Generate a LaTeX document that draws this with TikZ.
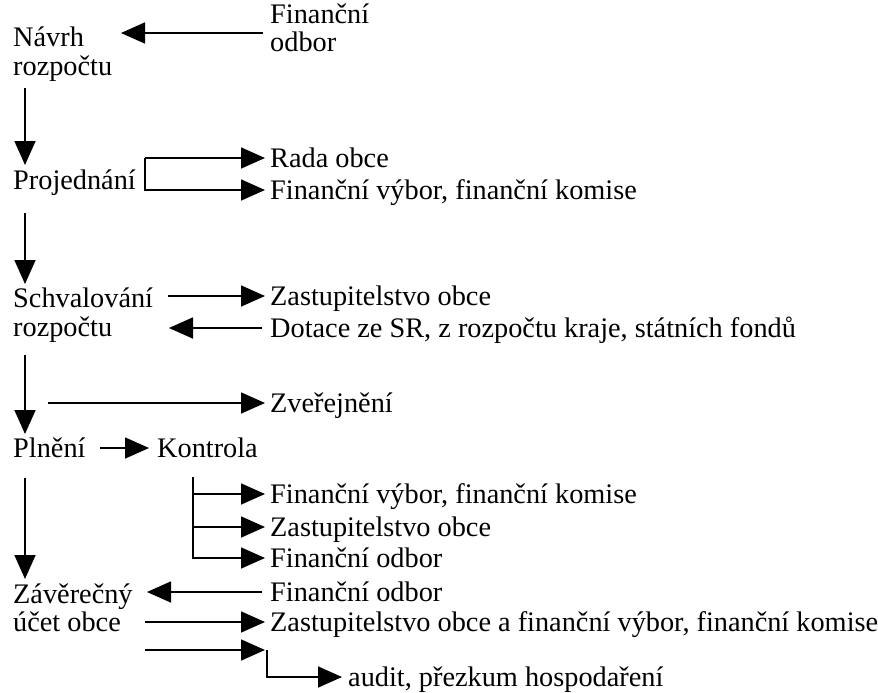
\documentclass[tikz,border=0pt]{standalone}
\usepackage{fontspec}
\setmainfont{Liberation Serif}
\usetikzlibrary{arrows.meta}
\begin{document}
\begin{tikzpicture}[x=1pt,y=-1pt,
  lbl/.style={inner sep=0pt,anchor=base west,font=\fontsize{28.3}{30}\selectfont},
  conn/.style={line width=1.7pt},
  arr/.style={conn,-{Triangle[length=24pt,width=21pt]}},
  varr/.style={conn,-{Triangle[length=24pt,width=21pt]}}]
\useasboundingbox (0,0) rectangle (878,693);
% left column
\node[lbl] (navrh) at (13,47) {Návrh};
\node[lbl] (navrh2) at (13,75) {rozpočtu};
\node[lbl] (proj) at (13,189) {Projednání};
\node[lbl] (schv) at (13,307) {Schvalování};
\node[lbl] (schv2) at (13,336) {rozpočtu};
\node[lbl] (plneni) at (13,457) {Plnění};
\node[lbl] (kontrola) at (157,457) {Kontrola};
\node[lbl] (zav) at (13,603) {Závěrečný};
\node[lbl] (zav2) at (13,631) {účet obce};
% right column
\node[lbl] (fo1) at (270,24) {Finanční};
\node[lbl] (fo1b) at (270,52) {odbor};
\node[lbl] (rada) at (270,167) {Rada obce};
\node[lbl] (fv1) at (270,199) {Finanční výbor, finanční komise};
\node[lbl] (zast1) at (270,305) {Zastupitelstvo obce};
\node[lbl] (dot) at (270,337) {Dotace ze SR, z rozpočtu kraje, státních fondů};
\node[lbl] (zver) at (270,412) {Zveřejnění};
\node[lbl] (fv2) at (270,503) {Finanční výbor, finanční komise};
\node[lbl] (zast2) at (270,536) {Zastupitelstvo obce};
\node[lbl] (fo2) at (270,567) {Finanční odbor};
\node[lbl] (fo3) at (270,601) {Finanční odbor};
\node[lbl] (zast3) at (270,631) {Zastupitelstvo obce a finanční výbor, finanční komise};
\node[lbl] (audit) at (348,686) {audit, přezkum hospodaření};
% vertical flow
\coordinate (v1a) at (25,88);  \coordinate (v1b) at (25,165);
\coordinate (v2a) at (25,213); \coordinate (v2b) at (25,284);
\coordinate (v3a) at (25,355); \coordinate (v3b) at (25,434);
\coordinate (v4a) at (25,478); \coordinate (v4b) at (25,579);
\draw[varr] (v1a) -- (v1b);
\draw[varr] (v2a) -- (v2b);
\draw[varr] (v3a) -- (v3b);
\draw[varr] (v4a) -- (v4b);
% horizontal
\coordinate (h1a) at (263,33); \coordinate (h1b) at (121,33);
\draw[arr] (h1a) -- (h1b);
\coordinate (br1) at (145,158); \coordinate (br2) at (145,190);
\draw[arr] (br1) -- (265,158);
\draw[arr] (br1) -- (br2) -- (265,190);
\draw[arr] (168,296) -- (265,296);
\draw[arr] (262,328) -- (169,328);
\draw[arr] (48,403) -- (265,403);
\draw[arr] (100,448) -- (149,448);
\coordinate (k1) at (193,477); \coordinate (k2) at (193,558);
\draw[arr] (k1) -- (k2) -- (265,558);
\draw[arr] (193,494) -- (265,494);
\draw[arr] (193,527) -- (265,527);
\draw[arr] (262,592) -- (147,592);
\draw[arr] (145,622) -- (265,622);
\draw[arr] (145,650) -- (265,650);
\coordinate (bend) at (267,650);
\draw[arr] (bend) -- (267,677) -- (342,677);
\end{tikzpicture}
\end{document}
